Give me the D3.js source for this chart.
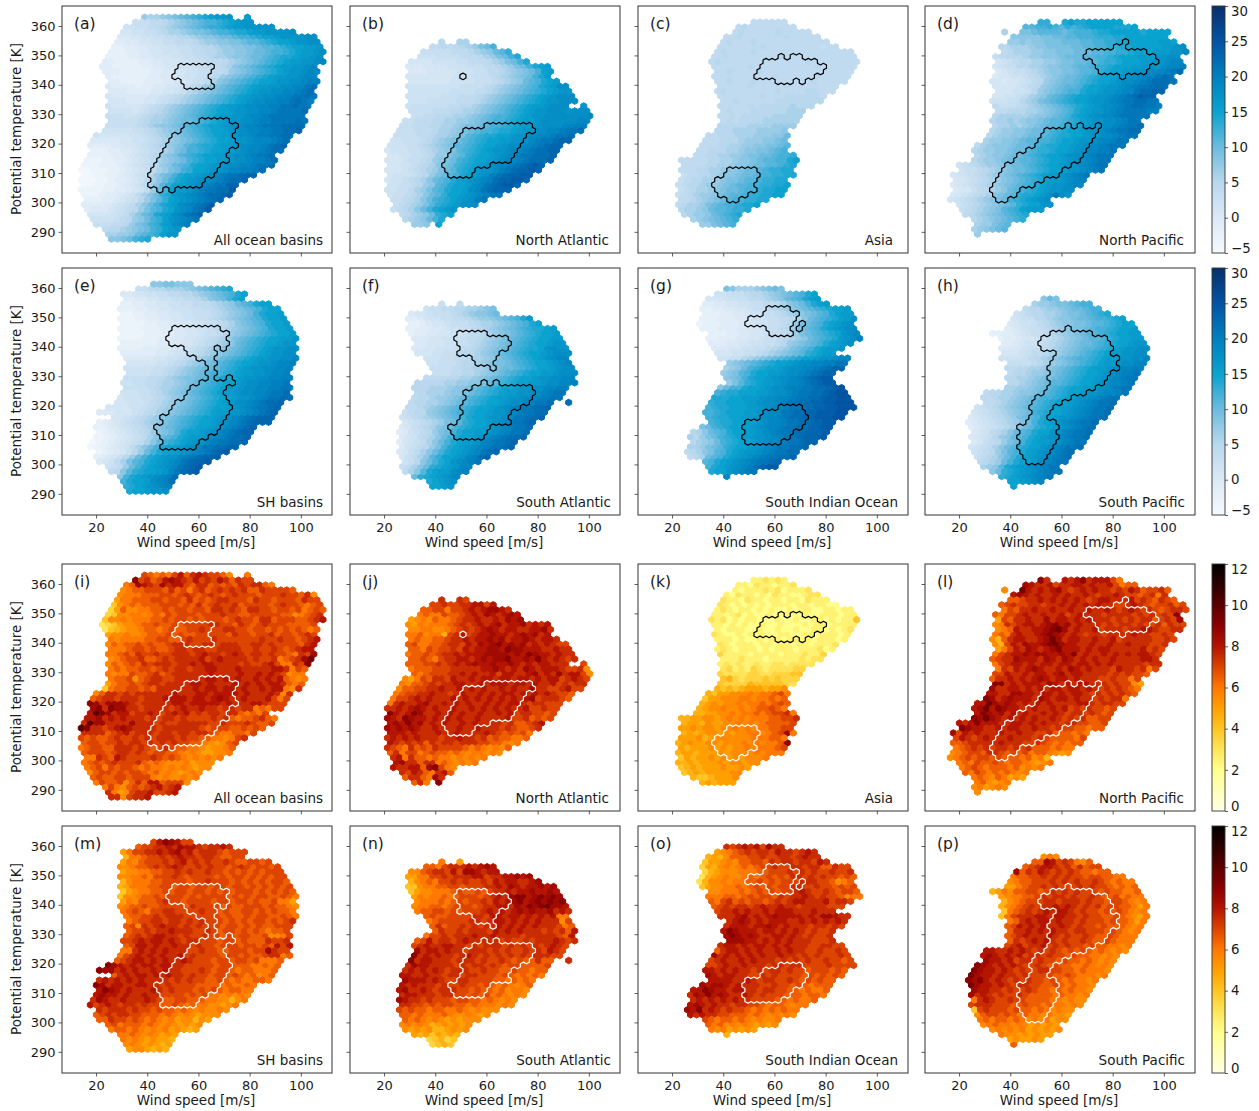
<!DOCTYPE html>
<html>
<head>
<meta charset="utf-8">
<script src="https://cdn.jsdelivr.net/npm/d3@7"></script>
<style>
body { margin: 0; background: #fff; }
text { font-family: "DejaVu Sans", sans-serif; fill: #1a1a1a; }
</style>
</head>
<body>
<div id="chart"></div>
<script>
// Values per hexagon row, one character per hexagon, spaces only group them, "." means empty.
// Mean panels: base 36 minus 5. Spread panels: base 36 divided by 2.
// starts = first column of each row, masks = [row, first column, last column]
var startsA = [13,11,10,9,9,8,8,7,7,6,6,6,7,7,7,7,7,7,7,7,7,7,7,6,5,4,4,4,4,3,3,2,3,2,3,2,3,3,3,3,4,4,5,6,7,7];
var startsB = [14,13,11,11,9,9,9,9,9,9,9,9,9,9,9,10,8,8,7,7,6,6,5,6,5,6,5,6,5,6,5,6,6,7,6,8,8,10];
var startsC = [18,16,15,14,13,13,12,12,11,12,12,12,12,13,12,13,13,13,13,13,13,13,12,11,10,10,9,9,6,7,6,7,6,6,6,6,6,6,6,7,8,10];
var startsD = [18,16,12,14,13,12,12,11,11,11,11,11,10,11,11,11,10,11,11,11,10,11,10,10,9,8,7,8,7,5,5,4,4,4,4,4,3,5,5,6,7,8,7,8];
var startsE = [14,12,9,10,9,9,9,9,9,9,9,9,9,9,9,10,10,10,10,10,9,10,9,9,8,7,5,8,5,5,5,5,4,4,5,5,5,7,7,9,9,10,10];
var startsF = [14,12,9,9,9,9,9,10,10,10,10,12,12,13,13,12,10,10,10,10,9,9,8,8,8,8,7,8,7,8,7,8,8,8,8,10,12,13];
var startsG = [14,12,11,10,10,10,10,9,10,11,11,11,12,12,13,14,14,13,14,14,13,12,12,11,11,10,11,11,10,8,8,8,8,7,8,10,11,11,14];
var startsH = [19,17,16,14,14,13,13,10,12,12,12,12,12,13,13,13,13,13,13,9,9,9,8,7,7,6,7,7,7,7,7,7,8,8,9,10,12,13,14];

var meanA = ["cbbcd efghi jkllm ..l","88899 abcde fghhi jklmm","77889 9abcd efghi ijkll mmmmm","66778 89abb cdeef ghhij jkllm mmmn","55667 78899 aabcd deffg hhijk klmmm mnn","44556 67788 999ab ccdde efggh ijkkl mmnn","33445 56677 78899 aabcc ddeef gghij kkllm","33344 55667 77889 9aabc cddef fghhi jkllm n","33334 45566 67788 99abb cddef fghij jkllm n","44333 34455 66677 88999 abcde fghij kllmm no","44333 33445 56677 78899 abdef ghijk llmmn o","44433 33344 55667 78899 acdef ghijk lmmno o","43333 33445 56677 889ac defgh ijkll mmnoo","44333 34445 56678 89bde fghij kklmm nnopp","54444 34455 66789 acdef ghijk llmmn nooqr","55544 44556 678ab cdefg hijkl mmnno opqr","65555 55667 89abc defgh ijklm mnnoo pqqrq","66655 56678 9abcd efghi jklmn noopp qrqp","76666 6789a bcdef ghijk llmnn ooppq qrqq","77776 789ab cdefg hijkk lmmnn oopqq qqr","88877 89abb cdefg hijkl lmmno opqqq qqq","88888 9abbc deffg hijkl mmnno ppqqq qrq","88888 9abcd defgh ijkkl mnnoo pqqqr rrr","77777 889ab cdefg hijkk lmnno oppqq rrs","76666 67789 abcde fghij kllmn noppq qrr","55555 66778 9abcd efghi jkklm mnooo pqr","44445 56678 9abcd eghij jkllm nnoop qrs","33344 55678 9abce fhhij kkllm noopq rr","33334 45678 9acde ghijk kllmn nopqq r","22233 44567 89bcd efhij kkllm nnopp qr","22233 34567 89acd fghjk klmmn noopq qr","11222 33456 789bc efhik klmmn ooppq r","11223 34567 8acef hjkkl mnopq qrss","11122 34456 79bdf hjklm nnopq rrs","11223 34567 9bdgi kllmn opqqs s","22223 34456 79cfh kllmo pqqrr t","22234 45679 bdfij lmnop qrrst","33344 5678a cegik lmnop qrs","44445 6789b dfhjk lnopq rt","45556 789ac eghjk mnoqr t","66667 89bdf gjkln oqrs","77778 9acdf hikmn opq","88899 acefh iklno p","9aabc defhi klm","bbccd fghik mm","ddefh ij"];
var meanB = ["a..bb","99a9a abcef h","88888 999ab cdfgi","77788 88999 abcef hj","66667 77788 999ab cefhj","55566 66777 88899 abcef hjkl","55566 66677 78899 abcde fhkl","66666 66677 78889 abcde fhjl","66666 66777 78889 abcdf ghjkl","77777 77778 8889a bcdef ghjkl nn","77777 77888 899ab cdefg hijkl mm","77777 78889 99abc defgh ijklm nnn","77788 88899 9abcd efghi jklmm nnn","78888 8899a abcde fghij kllmn nn..m","88889 99aab bcdef ghijk lmmnn nmnnn","8899a aabbc defgh hijkl mmnnn nnnno","88999 aabbc cdefg hhijk llmnn nnnno o","88999 aabbc deefg hhijk llmnn nnoop p","88899 9abbc defgh hijjk lmmnn oopqq r","88889 9abbc deghi jjkkl mmnno opqqr","77888 9abcd efghi jkkll mmnop qqrss","77788 9abcd egghi jkklm nnoop qrss","67778 89abc deghi jklmm noopq rrss","66778 89acc efgij kklmn opqqr rrs","66678 89acd efhij kklmn oopqr rrs","66778 9abde fhijk lmnoo pqrst s","66678 9abce fgijk lmmnp qrsst s","67778 9acef ghjkl mnpqr sstt","67789 abdfg hjklm noprs stts","77889 acdgh jkkln oqrst ts","77889 bcegh jkkln oqrss s","7889a bdfgi kklmn opqq","889ab dfhij klmnp q","89abc egijk lmmn","89abd fhjkl m","9abcd fijk","abcdf hj","ccd.k"];
var meanC = ["99999 9","9a999 99999","9a999 99a99 999","99a99 99999 a9999 9","9a999 a9999 99999 999","99999 99a99 99999 99899","9a999 9a999 99999 99999 999","99a99 99999 9a999 99999 9999","9a999 99999 99999 9a999 99999","99999 9a999 99999 99a99 9999","99a99 99a99 99999 99999 999","99999 99999 a9999 99a99 999","99a99 9a999 99999 9a999 99","99999 a9999 9a999 99999","9a999 99999 a9999 aa999","99999 99a99 9aaaa aa9","99a99 9999a aaaaa aa","99999 a9aaa aabaa a","9a999 aaaaa abbb","99a9a aaaab bbbb","9a9aa aabbb bbb","aaaaa bbbbc ccc","aaabb bbccc cd","99aaa bbbcc cddf","999aa abccc ddef","999aa bbccd deefg","99aaa bbcdd eefgh","99aab bccde effgh hi","99999 aabbc ddefg ghhjk","9999a abbcd deffg ghij","999aa bbcdd effgh iijj","899aa bcdde ffghh iijj","89aab bcdee fgghi ijj","89aab ccdef gghhi ijjk","89abb cdeff ghhij jkk","89abc cdefg ghiij jkk","99abc defgh hiijj","9abbc efghh ijjk","abbcd fgghi ij","abccd fghij","bcdef ghi","ccefg h"];
var meanD = ["ii.. jkjjk kkkkk","gghhi hgihi jkkkk jjjk","b.. eefgg ggfgh hhijj kkkkk jkkkk","ddddd eeffg ghhhi iijjk kkkkk k","ccdcd deeef ffggh hiijj kkkkk llk","aabbb cddee eeffg ghhii jjkkk kkllm n","9abbb ccdde eefff gghhi ijkkk lllmm o","89aaa bccdd defff gghhi jkkkl llmmn n","6789a abbcc deeff gghii jkkkl lmmno o","6788a abbcd deefg ghiij kkkll mmmno op","56788 9abcd deefg ghijk kllmm noopq r","56677 89abc deffg hijkk lmmno ppqrq","66566 789ac deffg hijkk lmnno pqrrr q","66667 89acd efggh jkklm mnopq qrrr","66677 8acde fghhj kklmm nooqr rss","66778 9bcdf ghijk klmmn opqrt ss","77788 abcef ghijk klmmn opqqr rqq","98889 abcde fghij klmnn opqrr qqp","99aaa bbcde fghjk lmmno pqqqq pp","abbbb bcdde fghjk lmnoo pqqqq q","abbcb cddef gghij klmmn nopqq","abbcb cdefg ghijk lmmnn opqqr","abccd deffg hijkk lmmno pqqrr","abccd deffg hijjk klmmn nopqq","bccdd efggh hijkk lmmno opqq","9bcdd deffg hijjk klmno opqqq","abccd deffg hiijk klmno oppq","abcdd effgh ijkkl mnnop qqq","abccd effgg hijkk lmnno pqq","789ab ccdef fghij kklmm nopqq","7889a bcdef fghij kklmm nopq","67789 abcde fghij kllmn opq","66789 abcde fghij kllmn op","56789 abcde fghij klmmn oo","56689 abcdf ghijk lmmnn","56789 abdef gijjk lnqnm","6789a bcdef hijkl mn","789ab cdefg ijkkm m","89abc deghi klll","9abcd efghi j","abcde fghi","bccef g","bcdef g","c"];
var meanE = ["ddeed dd","889aa bbbcd efghi j","55667 78899 aabcd efghj k","44556 67788 99abd efhjk","33445 56677 88999 abcdf ghjkk","33344 55667 77889 9abcd efghj kk","22334 45566 77888 9abcd efhjk kl","22233 44556 67788 9abcd efghj kkl","22223 34455 66778 89abd efghj kkl","22223 33445 56677 89abc defgh jkkl","22223 33445 56678 89acd efghi jkkl","22223 33445 56678 9abce fghij kkllm","33333 34455 66789 abcdf ghijk klmm","33334 44556 6789a bcdef ghijk lmmnn","44444 45567 789ab cdefg hijkl mmnn","55555 66778 9abcd efghi jkllm mnno","66666 7789a bcdef ghijk klmmn oop","77777 889ab cdeff ghijk lmmnn oop","77778 89abc defgh hijkl lmmno op","88889 9abcd eefgh ijjkl mmnno opp","77889 9abbc defgh ijkkl mnnoo ppq","88889 abbcd efghi jkllm nnoop pqq","77788 9abcd efghi jkllm nnoop qqr","67778 89abc defgh ijkkl mmnop qqrr","66777 89abc defgh ijklm nnopq rrs","66667 789ab cdefg hijkk lmnop qqrs","55566 6789a bcdef ghijk llmmn opqrs","66789 abcde fghij kklmn opqrs ss","34567 89abc defgh ijkkl mnopq rsss","33456 789ab defgh ijkkl mnopq rs","23456 789ac defhj kklmn opqrs s","22345 6789b dfghj kllmn opqrr s","12345 6789b dfhij klmmo pqqrr s","12345 679bd fhjkk lmnoq qrrss","23456 8acfh jkklm nopqr st","34568 acfhj klmmo pqrss t","5679b eghjk lmnoq rsst","789cf hjklm noqrs t","9adgi jkklm oqrst","dhjkl mnopr","hjkkl nopr","ijklm nop","jkklm mn"];
var meanF = ["8..9","78899 aabbc de","56678 889ab cddef","44567 78899 abccd efghj l","33456 67888 9abbc defgh jk","33445 56778 89abc defgh ijjkl","34455 66778 99abc defgh ijkkl","55566 77889 9abcd efghi jkkll","55666 77889 abcde fghij kklmm","55667 77899 abcde fghij jkmnm m","66677 889aa bcdef ghijk klmnn n","77788 99abb cdefg hijkl mnoo","77888 9aabc deefg hijkk lmno","88889 aabbc deffg hijkk lmnn","88899 aabcd efghi jkkll mnnn","9999a abbcd efghi jkklm mnnoo","aaaaa bbccd defgh ijkkl lmnno op","aaabb bcdde fghij kklmm nnoop p","aabbb cddef ghijk llmmn nopqq","9aabc cdefg hijkl lmmno oppqq","9aabb cdefg hijkk lmnno pqqr ..r","99abc defgh ijkkl mnopq qrrs","89aac defgh ijkkl mmnop qqrr","789ab cdefg hjkkl mmnoq qrrs","6789a bcefg ijkkl mnoqq rs","5689a bdefh ijkkl mnopq qr","45789 acefh jkkll mnopq qr","5679a bdfhj kklmn opqrr s","46789 bdfhj kllmo pqqrs","5789a cehjk lmnop qqrs","5689b dfhjk lmnoq rs","689bd gikkl moprs","78adf hjkmn opq","89bdf ijklm oo","9bdgj kllno p","fijkl mno","jklmn","kklm"];
var meanG = ["edbbb cdefe","77888 9aabc defgh jk","66677 8899a bcdfg hjkl","44556 67788 99abd efhjk l","33445 56678 89abc defgh ijkkl","33344 55677 889ab cdefg hjkll","33344 45567 78899 abdfg hijkl n","23334 44556 77889 acefg hjklm n","33344 45566 7889a cefgh jklmn o","33344 55667 889ac efghi jkmno","33444 55667 889ab cdfgh ijlmn p","44455 66778 89acd efghj klmn","55566 77889 abcef ghjkl lm","66677 889ab cdefg ijkll","7788a bcdef ghijk klmmn oo","cdefg hijkk lmnno oppqq","bcdfh ijkkl mnnoo pqrss","cdegh jkkll mnnop qrss","defhj kklmn nopqr stt","cegij kllmn oopqr stt","dfhhj kklmn noppq qrrst u","hijjk kkllm nnopq qrrst uu","jjjkk lllmn noopq qrrst tuu","ijjkk kllmn nopqq rrsst tuuu","hijjk kkllm noopq qrrss ttuuu","hhijk kkllm nooqq rrsst ttuu","hijjk kllmn oopqr rsstt tuu","hijjk kllmn oopqq rrsst t","efhij kkllm noopq qrrss tt","abdfg hjkkl lmnop qqrrs sst","bacef hijkl lmmno pqqrs sst","abcdf hijkk lmnoo pqqrs s","bbcef gijkk lmnop qqrrs","9abde ghjkl mmnop qqrr","9abfg hjklm nopqq rrs","ghjkl mnopq qrs","hjklm noprs tt","jkkmn opq","o"];
var meanH = ["dfe","bccde efghh","9aabc cdeff ghh","789aa bbcde efghi j","6788a abcdd effgh hijk","56778 9abcd deefg ghijk k","45678 89abc deefg hhijk kl","33445 67889 abcde fgghi jkkll","34456 6789a bcdef gghij kkll","44567 789ab cdeff ghijk klmm","55567 889ab cdefg ghijk lmmnn","66678 99abc defgh ijkll mmnn","77778 9abcd efghh ijkll mmnno","88889 abcde fghij kllmn noo","99aab bcdef ghijk llmno opp","9aabc cdefg hijkk lmnop pq","aabbc deefg hijkk lmnop qq","aabcd efggh ijkkl mnoop q","bbccd efghi jkkll mnopq q","9aabb cddef ghijk klmmn oopq","99abb cdefg hhijk lmmno pqq","99abc defgh ijkkl mnopq qr","789ab cdefg hijkl lmnop qqr","6789a bcdef hijkk lmnop qqr","56789 abcef ghjkl mmnop qqr","45678 9abce fhjkl mnopq qr","45678 9abdf gijkl mnopq r","5679a bdfgh jkkmn opqqr","5678a cdfgh jklmn opqqr","5689a cefhj kllmn opqq","6789b dfgij kkmno pqqr","789ac eghjk lmnop qr","89abd fhjkl mnopq r","9abcf hjkkl nopqq","bcdgj klmno pqq","dfijk lmnop qq","ijklm nopq","kklmn o","k"];

var spreadI = ["edcdc egdfg feedb ..c","iefde ghgfe gefeg fdfee","cdhgf ehfgg edffd ededf effdc","bcdde eedfd ecefd efefe fddfe eeed","bcccd ddeed efede fedef eeede eefee dfb","accdd deede edfde deffe eedfe edeee dfee","8bcdc dddee ededf defee fdeee edefe edcde","7adbb ccdde deede edffe fedff eedee decde d","78bbc cbcdc edeee deeef eedde eeeed dbcde f","8bbcb cccdd edeed edeee defee dffde eedde fg","678ab bcdde ddede eeeff eedfe defee edddd e","689ab bcddc dedde efeee ffeed eeded ededc d","abbcb bcddd ededd eeeee dfeed eefde edefe","cbccc cddee ddefe eefee eeeee feefe edefg","bdcdd ededd efffe effef ffeef fefee eedfg","cccde ededd effef feeff ffeef eefed efgg","ccded feefe efffe fgffe fgfef fefee dcfeh","bcdee fddef effff gefgf fffef eefcd efhj","bdcde dfeff feffg fggff ffefe efgec cfei","cdcdd eedef effef fggff fgfff ffggf ced","cbcce ddefd effff ffgff ffgff gfgfe bcc","cddeb deffe effff fggfg fgffg fgfgd cbc","acdde deffe ffffg gfgff fgfgf gfggf dcd","8cdde ededf fffff gfggf ggfgf fgfgg cbf","bdffe fefff fffgf ffggf ggggf gfffg fbf","deffe fffef ffggg gfggf ghgff gfffg ece","ihfhh hgfef ffffg gfggg ggfgf ffggf eee","hifih hffef fffef gffgf feffe ffcdc ee","gkihf ggeff gfefg fgefe ffeff dcdc e","gghfg fgfff efeff efeee efefd cddef dc","fkhhf fffhf ffefe effff feefe eefed de","kiffe fghgf fffef fffff edeee ddede d","ffffd efgef ffeff effef fedcc ddce","ededd efeef efeff fefee ddccb cef","deede efeff efefe feedd cbabd e","cdeed dfffe fedef eddcc babbc d","deeed effef edeed dcbcb aabbc","ccfed gfeee efede dcbcb cbc","cdede feeef dcdcb bbcab bb","cdece deedc dccbc bcbab b","bdeed edeed cdbcb abcb","dedde edeee cbcbb cbc","cedde bdfdg gdeee b","cecbd edefg efg","fcabe ffgee fg","ffbef fg"];
var spreadJ = ["f..fe","eefee ffgge g","ddeec eefgf ghhgf","cdcce ddefg fhgfg hg","abcbd ccdef fgffg fhgh","bacbc ccdef efgfg hfggh fgfg","bbccb bcdef efghg fggff gghf","ccdbc c9efg efggh ggfgh ghfg","cdccd deffg fgghg hfggh gfggf","deccd deffe gfhgh ighgh fgfgf ee","ddced eefeg fgghh gihhg ggffg ff","cdded effgf ggghh hhghg ihggf gff","ddedc effgg fghgh higgh gigfg fef","dddee fefgf ghggh gghgf gfggf ff..e","cddde eefff ffggh gfgfh gfggg feefb","dcdee effgf gffge ggffg hfgfh fggeb","baced ffegf fgfgg fggfg gfgfg gefgf e","cbdde feffg gffgf gggfg gfgff gefef f","bddee ffgff gfgfg ffgfg ffhff eefge e","cdeef fgffe fgffg fgfgg fgfgf gfeed","ceefg fgfff gfgfg fgfgf gfghe fffed","cfgff ghffg fgfgf fgfgf ggfef feee","ffgfg hgfgf fgffg fgfgf gffge efee","igfgi hffgf gfgff gffgf geffe ede","hgfih ggfgf gfgff gffff geefd ede","ghgig hfgfg ffgfg ffffe fddef g","hghgh gffgf ffgff gfffe fedde f","gggfg fffgf fgfff fgfed edec","fgfgf gfffe ffgff efded dccd","gfefe fdfef fefff eeddc bc","fedcf dedfe eeedc dcbcb d","dfcee cdedd cdcbc cbcb","fgcfd dcdcc bcbcb c","ghffd ffcdc bcbc","gffgg dhiec b","fegfd cfgd","dffdc hf","dfc.i"];
var spreadK = ["55656 5","55465 54556","54555 65645 556","54655 45465 54456 6","65546 55455 45546 555","65454 54545 55455 45544","56545 54545 44545 54455 455","55456 45445 44544 54455 5455","65645 45544 45445 44554 54558","55454 54454 45444 54554 5555","54555 44544 54454 45545 456","65445 45454 45544 55455 545","55545 44545 54554 54555 45","65455 54554 55455 45556","56545 55454 55545 55645","75555 45555 45556 557","55565 55455 55565 66","56565 56556 65666 6","67565 76566 6677","76666 77667 7788","89767 77878 777","87777 98888 876","98989 aaa9a ab","98aab bbcbc cdec","8aabb bccbc cdcd","9abab bcbcc dcded","9abbc bbcbc ddedc","99aab bcbcc dcdee fc","99aab babcb cbccc ddeef","9aa9b aabbc bcbcd ddde","aabab babbc bcbcc ddee","9a9ab babab bccbc dehc","aaab9 abbbb bbccc ddc","9abaa bbabb bcbcb ccdi","a9aaa babab bcbcc cde","9aa9a aabab bbbcb ccc","8a9aa babab abbbc","99a9a aabab babb","89a9a aabaa ba","89a9a aaabb","9889a aab","9a9aa a"];
var spreadL = ["if.. gfgif gggec","hgffg effgg fgffg ecdd","b.. jgfgf ghfef gfgff efegf deefd","ghgfg ffgfg ffgfe ffgfe edefc f","ddeff gfgfg fgfef ggfff gefed fed","defee ffeff gfgfg fgffe efgfe deefd e","cedff gffgf fgffg ffgfe fgfef edeff e","dceef gffgf fgefg fffef fffef efefe i","aedff gffhf ggfgf gfffe fefef fdefe h","bcfef ggfgh ighfg fffef effef eefdf ee","bcdgf fgghi jhfgf fgeff feffg gfeef f","cdcfg ffghi hgfgf effef fffgf feefe","b9dfg gffgh jhfgg ffgff gefff ffeef e","b9egf hgghi jhggf fgffg ffgff feef","acegf hgfgh igggf gfggf ffffg efe","cefgg hghhg ghgif gffgf gfgfg gfe","deffh gggfh gfhgf gfgff gffff ggf","cefgg fgfgg fggfg gfgfg fffff eff","cfegf ghgff gfhgf gfffe gffef ce","eegff gfggf ghfgg ffffe fefee d","dffgf gfghg fggfg fffee feece","iifgf gggfh gfgfg gfffe feeba","hffgg fgfgf ggfgg fgfef efedc","ggffh hggfg gfgfg gfefe fefed","ihfgh gggfh gfggf gffef effc","ggjhg hgfgf gfgff ffggf effee","ghjgi hggff gffgf gefef eede","gihgh fgfgf fgfgf effef ede","ihjhg fgfgf gffgf efefd dee","gfgig ggffg gfgfg ffeff eedde","ihggf fgfgg ffgff efeed dcdd","hegfg fffgf fgffe efddd cdc","egfef gfffg fffef edddd ce","ddeff fffgf ffeef edcdc dd","cdefe feffe fefdd dcdcc","bcdee dffed edecd dcbab","bcded eeded ddcdb c9","cdced dedcd dcbab c","cdedc dddcd bcbc","dcedc dcdcb c","cdcbd caba","cdbab c","bcabc b","b"];
var spreadM = ["egihg ee","deeff gfhgg feffg f","aceef fgfgh fgeff fedee e","9ccde efefg ffeff eddee","acbde eefef gefef eefed deede","bbcdd efefg feefe feede fedee de","abbcc ddeef efeef eeded edede ee","bbccd ceeef edeee edede edede dee","9bccc ddeee edeef eeede deded eed","9accc ddeed eedee deede edede dede","8abcc ddede edeed edede eeded eded","8bbcd dedee edede eeede dedee ddedc","acbdd defee deeee deede ededd ecca","bcdde ddeee edfee eeded deeed eddcb","cdedc eeffe eeefe ededd eeded eddc","cddee fefff eeeee ededd edeed dedc","cdeef feffe fefee edede deede def","debfe fgffe fefee edeed ededd eee","deefe ffgff feefe deede dedcd de","defef ggffe feefe edede eddeb bce","eefgf ggfgf effee edeed edddf eef","deggf gffgf fefee deeed eeded geg","ccfgf gfgff feefe eddee edeeh fee","cefgf gfgff gefee eedee dedde ffcd","defgg fgfgf fgfee edeed eedec ccd","ihgfg fggfg gffee eeede edddc cdcd","ihhfg fgffg fgffe eefed eedcd dcccd","dfgfg gfgfg ffefe edeed edcdb cd","fgfgf gfgff ffefe feedd edcdc cddc","ihfgg ffggf fefee eeddd dcdcc dc","gihgf gfffg fefee edede dcddc c","ghggf gffgf feeee dedec cbcbc b","fhgff gfffg fedde edddc cbb9b c","gefgf effef eedde dcdcc bbabc","fefff efeed eddcd cbcbb cb","defef feedd dcdcb cbabb b","ddfee dedcd cbcab b9ba","decdd dcdcb cbaba b","cddcd cbcbc aba9a","ccdcb cbaba","cbcba baa9","bcbab a9a","abba9 a9"];
var spreadN = ["c..a","ddcef ffgfg hg","bbdef fegeh hgfgg","aacce efeff fggef fgghg h","9bcdc eefef eefeg fggff gh","88bcc ddeed eeeff gfhgf gghgh","8abbc ccded dedef fgfgg hgghg","acbcc dcdee edefg fhiig hihih","bcccd cdede efegf ghigh ihihi","bccdd cdeee deffg gfhgi hijhh g","cddee dedee efgfg fghgh gghfg f","dedde eeeff eggfg gfgfg fgcc","cdeee eeffe fggfg fgfgf ffbe","dfdee fefef fgfgf gfgff fecd","dfeef efffe gfgfg fffef efdg","ceefe fffgf fgfff fefff ffedg","degef fefgf ffffe feefe fffgf ef","efgff ggffe fefff efefe fefgf e","hfggf gffef ffefe feefe fegfe","ifgfg ffefg fefef efefe fffee","ifggf ffeff fefee feded dfdd..f","fhggf fffef effef edeed ddde","fgfgf gfeff feefe edded dcdd","ggffg ffeff effee ededc dcdc","hgggf gfeef feeee ddcdc dc","gfgff fefee feede dcdcb cd","ghffg fefff eeded dcdbc cb","fggff feffe edede cdcbc b","hgffe feeed eeddc dcbcb","ffeed edeed dcdcc cbcb","ededd cddcc dcbcb bb","ddcdc ccdcb bcbab","dcdcb cbaba bbb","bcbcb 9abab ab","babab 99aba b","a9a8a 9a9","78978","7898"];
var spreadO = ["fefgf gehff","abcde feffe gffef gf","9a9bd ddeef eeffe fgff","8aabc bddee dfeff effeg f","7a9bc bcdcd eefee ffeff ddfee","79abb bcccd deeef efefe efeef","69abc bbcdc deded ffefe feede d","69bbc bccdd edede eefff eedbc d","8abbc cdcde dedee ffeef eeded e","bbccc dcded edeef gfeef edeed","cccdd cdede edfef fgfef eedbc c","dcefd edeed efefg gfffg effe","defef fefgf fgffe ffffe ee","effgf gffgf gggff fgfff","fffgh fgfgh ggggf gfhhg ff","fghgf gfggg ffgfg fgfgf","fgggf gghgf gfffe ffefe","gihgg gfggf gfgfe feef","hihgh gffgg fgfef eef","hhhgg fgfgf gfffe eef","fggfg fggfg fgfff eeffe e","dfggf gfgff gfgff eefee fe","hfgfg fgfgf fgffe fefee efe","efgff gfgff fefef efeef eede","eefgf fgfff effef feeee feeee","ggfgf gffef effef eedee eded","hgfgg ffeef efeee edede ded","ggggf fgfef feefe deded d","hghhg fgfff eefee dedcd dd","ggihg gfggf feffe eddcd ccd","fhgig hgffg fefee edddc ddc","fgfgf gfgff eeeed dcdcc d","ghgfg ffeff eedcd dcbcc","hgifg fefee dcdcd cdcc","gfgff eeddd cdcbc bcb","edcdd cdcbc bbc","dcdbc bcbab ab","cbcab aba","9"];
var spreadP = ["bcb","ddhge fecbd","defgg fefdf dee","hdfeg fefef eddcd d","cddee fefef eedee ddcc","bcdde eefef efeef edcdc c","aacde efefe eefef eedcd cd","9acbd deede fefef eeede ddccd","abccd defef fefee fedde cdcc","9bcde eeffe fffef eedee dcbc","9bcde feffg fgfef efdee ddcac","8cdef efgfg gfefe edede dcbc","8ceff fggfg gffef eedde dcbac","cdfgf ggfgf fefee ededd cac","degfg fgffg fefee deddd cbc","dffgf gfgff effee ededc bc","defgf ffgfe feefe ddedc cc","dfefg fgfef eefed dedcc c","efgef fgefe feede ddccb c","ggffg fgfef efede dedcd cbcb","ghgfg fgeff efeed eddcc bcb","hggfg effef eeded dcdcb cb","ihgfg fgfee feded dccdc bcb","ihggf gfefe effee ddcdc ccb","jhggf gffef eeeed dedcc cbc","ihigf gfefe feede dcdcc bc","jhggf gfeff eedde dcdcc b","hggff efeef eddcd cdccb","hfgfe feefe ddddc dccbc","cfgfe efeed dddcc bcbb","efffe eedde ddcdc cbcb","8efee ededd cdcbc bb","bdeed edcdc cbcbb a","cdcdd cdcbc bcabb","bcdcc bcbab aba","bcbcb cabab ab","cbbab abaa","abaab a","d"];

var maskA = [[10,19,24],[11,18,23],[12,18,23],[13,19,23],[14,20,24],[21,22,26],[22,20,28],[23,19,27],[24,18,27],[25,17,27],[26,17,28],[27,16,26],[28,16,26],[29,15,26],[30,15,25],[31,14,24],[32,14,24],[33,14,22],[34,14,22],[35,15,15],[35,17,17]];
var maskB = [[12,18,18],[22,22,29],[23,18,29],[24,18,28],[25,17,27],[26,17,27],[27,16,26],[28,16,26],[29,15,25],[30,15,22],[31,15,19],[32,16,19]];
var maskCUpper = [[8,23,23],[8,25,26],[9,20,28],[10,20,30],[11,19,29],[12,19,28],[13,22,24],[13,26,26]];
var maskCLower = [[31,14,18],[32,14,19],[33,12,18],[34,12,18],[35,12,18],[36,13,17],[37,14,15]];
var maskD = [[5,32,32],[6,31,32],[7,26,35],[8,26,37],[9,27,37],[10,28,36],[11,28,35],[12,32,32],[22,23,23],[22,25,25],[22,28,28],[23,19,27],[24,19,27],[25,18,26],[26,18,26],[27,16,25],[28,15,25],[29,14,24],[30,13,23],[31,12,21],[32,12,21],[33,11,18],[34,11,17],[35,10,14],[36,11,14],[37,11,12]];
var maskE = [[10,18,25],[11,17,26],[12,17,26],[13,17,26],[14,20,24],[14,26,26],[15,20,24],[16,22,24],[17,23,24],[18,24,24],[19,23,24],[20,24,24],[20,27,27],[21,22,27],[22,21,26],[23,20,25],[24,20,26],[25,18,26],[26,18,27],[27,17,26],[28,16,26],[29,16,25],[30,15,25],[31,15,24],[32,16,23],[33,16,21],[34,16,21]];
var maskF = [[11,17,21],[12,17,25],[13,17,25],[14,18,25],[15,17,23],[16,20,23],[17,20,22],[18,23,23],[21,21,21],[21,23,23],[22,20,29],[23,18,29],[24,19,29],[25,18,28],[26,18,27],[27,18,25],[28,18,25],[29,17,25],[30,16,22],[31,16,21],[32,17,21]];
var maskG = [[6,21,24],[7,20,25],[8,18,25],[9,17,24],[10,21,24],[11,21,24],[9,26,26],[10,26,26],[26,23,26],[27,20,26],[28,20,27],[29,17,26],[30,17,26],[31,17,24],[32,17,24],[33,17,22]];
var maskH = [[10,23,23],[11,20,26],[12,19,29],[13,18,29],[14,19,30],[15,21,29],[16,21,31],[17,20,30],[18,20,31],[19,20,29],[20,20,29],[21,20,28],[22,20,27],[23,19,25],[24,18,23],[25,17,21],[26,17,20],[27,17,19],[28,17,19],[29,16,20],[30,15,21],[31,15,20],[32,15,21],[33,15,20],[34,15,20],[35,15,19],[36,16,19],[37,16,18]];

var windTicks = [20, 40, 60, 80, 100];
var thetaTicks = [290, 300, 310, 320, 330, 340, 350, 360];
var meanTicks = [-5, 0, 5, 10, 15, 20, 25, 30];
var spreadTicks = [0, 2, 4, 6, 8, 10, 12];
var meanStops = [-5, 0, 5, 10, 15, 20, 25, 30];
var meanColors = ["#f6fafe", "#dbe9f6", "#b9d8ed", "#6cbbdf", "#0aa2cf", "#0080bf", "#0353a4", "#08306b"];
var spreadStops = [0, 2, 3, 4, 5, 6, 7, 8, 9, 10, 11, 12];
var spreadColors = ["#ffffe6", "#ffff8c", "#ffe45a", "#ffc425", "#ffa000", "#ff7800", "#dd4400", "#b41400", "#8b0000", "#5c0000", "#2c0000", "#000000"];

var colX = [62, 350, 638, 925];
var rowY = [6, 268, 564, 826];
var panelW = 270, panelH = 247;

// hexbin grid, shared by every panel
var u0 = 8.34, du = 2.36, th0 = 362.96, dth = 1.676;

var meanColor = d3.scaleLinear().domain(meanStops).range(meanColors).clamp(true);
var spreadColor = d3.scaleLinear().domain(spreadStops).range(spreadColors).clamp(true);

var panels = [
  {name: "(a)", basin: "All ocean basins", gap: 9, row: 0, col: 0, first: 0, starts: startsA, vals: meanA, mask: maskA},
  {name: "(b)", basin: "North Atlantic", gap: 11, row: 0, col: 1, first: 5, starts: startsB, vals: meanB, mask: maskB},
  {name: "(c)", basin: "Asia", gap: 15, row: 0, col: 2, first: 1, starts: startsC, vals: meanC, mask: maskCUpper.concat(maskCLower)},
  {name: "(d)", basin: "North Pacific", gap: 11, row: 0, col: 3, first: 1, starts: startsD, vals: meanD, mask: maskD},
  {name: "(e)", basin: "SH basins", gap: 9, row: 1, col: 0, first: 1, starts: startsE, vals: meanE, mask: maskE},
  {name: "(f)", basin: "South Atlantic", gap: 9, row: 1, col: 1, first: 5, starts: startsF, vals: meanF, mask: maskF},
  {name: "(g)", basin: "South Indian Ocean", gap: 10, row: 1, col: 2, first: 2, starts: startsG, vals: meanG, mask: maskG},
  {name: "(h)", basin: "South Pacific", gap: 10, row: 1, col: 3, first: 4, starts: startsH, vals: meanH, mask: maskH},
  {name: "(i)", basin: "All ocean basins", gap: 9, row: 2, col: 0, first: 0, starts: startsA, vals: spreadI, mask: maskA},
  {name: "(j)", basin: "North Atlantic", gap: 11, row: 2, col: 1, first: 5, starts: startsB, vals: spreadJ, mask: maskB},
  {name: "(k)", basin: "Asia", gap: 15, row: 2, col: 2, first: 1, starts: startsC, vals: spreadK, mask: maskCLower, maskDark: maskCUpper},
  {name: "(l)", basin: "North Pacific", gap: 11, row: 2, col: 3, first: 1, starts: startsD, vals: spreadL, mask: maskD},
  {name: "(m)", basin: "SH basins", gap: 9, row: 3, col: 0, first: 1, starts: startsE, vals: spreadM, mask: maskE},
  {name: "(n)", basin: "South Atlantic", gap: 9, row: 3, col: 1, first: 5, starts: startsF, vals: spreadN, mask: maskF},
  {name: "(o)", basin: "South Indian Ocean", gap: 10, row: 3, col: 2, first: 2, starts: startsG, vals: spreadO, mask: maskG},
  {name: "(p)", basin: "South Pacific", gap: 10, row: 3, col: 3, first: 4, starts: startsH, vals: spreadP, mask: maskH}
];

var svg = d3.select("#chart").append("svg").attr("width", 1259).attr("height", 1111);

panels.forEach(function(p) {
  var left = colX[p.col], top = rowY[p.row];
  var isMean = p.row < 2;
  var x = d3.scaleLinear().domain([6.7, 112.17]).range([left, left + panelW]);
  var y = d3.scaleLinear().domain([366.8, 282.8]).range([top, top + panelH]);
  var color = isMean ? meanColor : spreadColor;

  var g = svg.append("g");

  function corners(r, c) {
    var u = u0 + du * (c + (r % 2 ? 0.5 : 0)), th = th0 - dth * r;
    return [[u, th + dth * 2 / 3], [u + du / 2, th + dth / 3], [u + du / 2, th - dth / 3],
            [u, th - dth * 2 / 3], [u - du / 2, th - dth / 3], [u - du / 2, th + dth / 3]]
      .map(function(k) { return [x(k[0]), y(k[1])]; });
  }

  // hexbin draws one lattice and then the other
  var cells = [];
  p.vals.forEach(function(line, i) {
    var r = p.first + i;
    line.replace(/ /g, "").split("").forEach(function(ch, j) {
      if (ch === ".") return;
      cells.push({r: r, c: p.starts[i] + j, v: isMean ? parseInt(ch, 36) - 5 : parseInt(ch, 36) / 2});
    });
  });
  cells.sort(function(a, b) { return (a.r % 2) - (b.r % 2); });

  g.selectAll("path.hex").data(cells).enter().append("path")
    .attr("class", "hex")
    .attr("d", function(d) { return d3.line()(corners(d.r, d.c)) + "Z"; })
    .attr("fill", function(d) { return color(d.v); })
    .attr("stroke", function(d) { return color(d.v); })
    .attr("stroke-width", 1);

  // outline of the marked hexagons
  function outline(mask, stroke) {
    var inside = {};
    mask.forEach(function(m) {
      for (var c = m[1]; c <= m[2]; c++) inside[m[0] + "_" + c] = true;
    });
    var d = "";
    Object.keys(inside).forEach(function(key) {
      var r = +key.split("_")[0], c = +key.split("_")[1];
      var s = r % 2 ? 1 : 0;
      var around = [[r - 1, c + s], [r, c + 1], [r + 1, c + s], [r + 1, c + s - 1], [r, c - 1], [r - 1, c + s - 1]];
      var k = corners(r, c);
      around.forEach(function(n, i) {
        if (!inside[n[0] + "_" + n[1]]) {
          var a = k[i], b = k[(i + 1) % 6];
          d += "M" + a[0] + "," + a[1] + "L" + b[0] + "," + b[1];
        }
      });
    });
    g.append("path").attr("d", d).attr("fill", "none")
      .attr("stroke", stroke).attr("stroke-width", 1.2).attr("stroke-linecap", "round");
  }
  outline(p.mask, isMean ? "#000" : "#fff");
  if (p.maskDark) outline(p.maskDark, "#000");

  var showX = p.row % 2 === 1, showY = p.col === 0;
  var xAxis = d3.axisBottom(x).tickValues(windTicks).tickSize(3.5).tickSizeOuter(0).tickFormat(showX ? d3.format("d") : "");
  var yAxis = d3.axisLeft(y).tickValues(thetaTicks).tickSize(3.5).tickSizeOuter(0).tickFormat(showY ? d3.format("d") : "");
  var ax = g.append("g").attr("transform", "translate(0," + (top + panelH) + ")").call(xAxis);
  var ay = g.append("g").attr("transform", "translate(" + left + ",0)").call(yAxis);
  ax.selectAll("text").attr("y", 7.5);
  [ax, ay].forEach(function(a) {
    a.selectAll("text").attr("font-size", 13).style("font-family", '"DejaVu Sans"');
    a.selectAll("line").attr("stroke", "#333").attr("stroke-width", 0.8);
    a.select(".domain").remove();
  });
  g.append("rect").attr("x", left).attr("y", top).attr("width", panelW).attr("height", panelH)
    .attr("fill", "none").attr("stroke", "#333").attr("stroke-width", 1);

  g.append("text").attr("x", left + 12).attr("y", top + 23).attr("font-size", 15.5).text(p.name);
  g.append("text").attr("x", left + panelW - p.gap).attr("y", top + panelH - 8).attr("text-anchor", "end").attr("font-size", 13.5).text(p.basin);

  if (showX) {
    g.append("text").attr("x", left + panelW / 2 - 1).attr("y", top + panelH + 32).attr("text-anchor", "middle").attr("font-size", 13.5).text("Wind speed [m/s]");
  }
  if (showY) {
    g.append("text").attr("transform", "translate(21," + (top + 123) + ") rotate(-90)").attr("text-anchor", "middle").attr("font-size", 13.5).text("Potential temperature [K]");
  }
});

// colour bars
rowY.forEach(function(top, i) {
  var isMean = i < 2;
  var domain = isMean ? [-5, 30] : [0, 12];
  var cb = d3.scaleLinear().domain(domain).range([top + panelH, top]);
  var color = isMean ? meanColor : spreadColor;
  var g = svg.append("g");
  d3.range(top, top + panelH, 1).forEach(function(py) {
    g.append("rect").attr("x", 1212).attr("y", py).attr("width", 13).attr("height", 1.2).attr("fill", color(cb.invert(py + 0.5)));
  });
  g.append("rect").attr("x", 1212).attr("y", top).attr("width", 13).attr("height", panelH).attr("fill", "none").attr("stroke", "#333").attr("stroke-width", 0.9);
  var ticks = isMean ? meanTicks : spreadTicks;
  var ax = g.append("g").attr("transform", "translate(1225,0)").call(d3.axisRight(cb).tickValues(ticks).tickSize(3).tickSizeOuter(0).tickFormat(function(t) { return String(t).replace("-", "\u2212"); }));
  ax.select(".domain").remove();
  ax.selectAll("line").attr("stroke", "#333").attr("stroke-width", 0.8);
  ax.selectAll("text").attr("font-size", 13.3).attr("x", 6)
    .attr("dy", function(t) { return t === domain[0] ? "-0.05em" : t === domain[1] ? "0.7em" : "0.32em"; });
});
</script>
</body>
</html>
